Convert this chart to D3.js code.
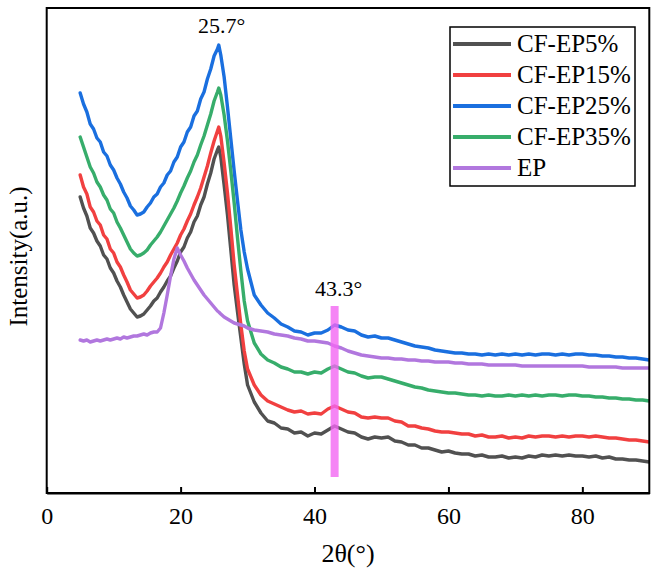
<!DOCTYPE html>
<html><head><meta charset="utf-8">
<script src="https://cdn.jsdelivr.net/npm/d3@7/dist/d3.min.js"></script>
<style>html,body{margin:0;padding:0;background:#fff;} svg{display:block;}</style>
</head><body>
<svg id="chart" width="656" height="578"></svg>
<script>
// 2θ (degrees)
const twoTheta = [
  5,5.5,6,6.5,7,7.5,8,8.5,9,9.5,
  10,10.5,11,11.5,12,12.5,13,13.5,14,14.5,
  15,15.5,16,16.5,17,17.5,18,18.5,19,19.5,
  20,20.5,21,21.5,22,22.5,23,23.5,24,24.5,
  25,25.5,25.7,26,26.5,27,27.5,28,28.5,29,
  29.5,30,31,32,33,34,35,36,37,38,
  39,40,41,42,43,44,45,46,47,48,
  49,50,51,52,53,54,55,56,57,58,
  59,60,61,62,63,64,65,66,67,68,
  69,70,71,72,73,74,75,76,77,78,
  79,80,81,82,83,84,85,86,87,88,
  89,90];
// Intensity (a.u.)
const cfEp5 = [
  296,285,277,265,260,252,247,238,234,225,
  220,212,206,198,191,184,180,176,177,179,
  183,187,192,195,201,206,212,217,225,232,
  241,246,255,261,271,277,288,296,309,320,
  334,343,346,336,308,278,243,208,181,155,
  129,108,91,80,72,70,65,64,60,61,
  57,60,59,63,67,64,61,60,56,54,
  56,55,56,52,51,48,48,45,45,43,
  41,42,40,39,39,37,38,36,36,37,
  35,36,35,37,36,38,37,38,37,38,
  37,37,36,37,35,36,34,34,33,33,
  32,31];
const cfEp15 = [
  318,306,299,286,281,272,268,258,254,244,
  240,231,226,218,211,203,199,195,196,198,
  202,207,211,215,220,226,231,238,244,250,
  258,264,272,279,288,296,305,316,327,340,
  352,362,366,357,330,300,265,228,198,168,
  142,124,108,98,92,89,86,83,81,82,
  79,80,79,84,87,84,81,80,76,75,
  76,75,75,72,71,67,67,65,64,62,
  61,61,60,59,59,57,58,56,56,57,
  55,56,55,57,56,57,57,56,57,56,
  57,57,56,57,56,55,55,54,53,53,
  52,51];
const cfEp25 = [
  400,389,381,369,364,355,351,341,337,328,
  323,315,309,301,295,287,283,278,279,281,
  286,290,296,299,306,310,318,322,331,336,
  346,351,361,366,377,382,394,401,414,424,
  437,444,448,438,416,386,354,322,292,263,
  241,224,198,188,180,175,169,166,162,161,
  158,160,160,163,168,166,163,162,158,156,
  157,155,155,153,151,149,147,146,145,143,
  142,141,140,140,139,139,138,139,138,139,
  138,139,138,139,138,139,139,138,139,138,
  139,139,138,138,137,137,136,136,135,135,
  134,133];
const cfEp35 = [
  356,346,336,326,320,311,306,298,293,284,
  280,271,265,258,251,244,240,237,238,240,
  243,248,252,256,261,267,273,279,285,292,
  300,307,315,322,331,338,348,357,368,379,
  392,401,405,398,378,352,322,290,255,222,
  192,172,150,139,133,130,126,124,121,121,
  119,121,120,124,127,124,121,120,117,115,
  116,116,114,112,110,108,106,105,103,102,
  101,100,100,99,98,98,97,98,97,97,
  98,97,98,97,98,97,98,98,97,98,
  98,97,97,96,96,95,95,94,94,93,
  93,92];
const ep = [
  153,152,153,151,152,153,152,153,154,153,
  154,155,154,156,155,156,157,157,158,159,
  158,160,161,161,165,180,198,217,234,245,
  238,232,225,219,213,208,203,198,194,190,
  186,182,181,179,176,174,172,170,169,168,
  167,165,163,162,161,159,158,157,155,154,
  152,152,151,150,147,145,142,140,138,137,
  136,135,135,134,134,133,133,132,132,131,
  131,131,130,130,129,129,129,128,128,128,
  128,128,127,127,127,127,127,127,127,127,
  127,127,126,126,126,126,126,125,125,125,
  125,125];

const seriesNames  = ["CF-EP5%","CF-EP15%","CF-EP25%","CF-EP35%","EP"];
const seriesValues = [cfEp5, cfEp15, cfEp25, cfEp35, ep];
const seriesColors = ["#515151","#F14040","#1A6FDF","#37AD6B","#B177DE"];
const xTicks = [0,20,40,60,80];
const xDomain = [0,90];
const yDomain = [0,485];
const peakMain = {x:25.7, label:"25.7°", y:448};
const peakMarker = {x:43.0, label:"43.3°", y0:16, y1:187};

const svg = d3.select("#chart");
const W = 656, H = 578;
const m = {l:46.7, r:656-649.3, t:8, b:578-493};
const x = d3.scaleLinear().domain(xDomain).range([m.l, W-m.r]);
const y = d3.scaleLinear().domain(yDomain).range([H-m.b, m.t]);
const FONT = "Liberation Serif, Times New Roman, serif";

svg.append("defs").append("clipPath").attr("id","clip")
  .append("rect").attr("x",m.l).attr("y",m.t).attr("width",W-m.l-m.r).attr("height",H-m.t-m.b);

const line = d3.line().x((d,i)=>x(twoTheta[i])).y(d=>y(d)).curve(d3.curveLinear);
const g = svg.append("g").attr("clip-path","url(#clip)");
seriesValues.forEach((vals,k)=>{
  g.append("path").datum(vals).attr("d",line)
    .attr("fill","none").attr("stroke",seriesColors[k])
    .attr("stroke-width",3.4).attr("stroke-linejoin","round").attr("stroke-linecap","round");
});

// marker bar at 43.3°
svg.append("rect")
  .attr("x", x(peakMarker.x)-4).attr("width",8)
  .attr("y", y(peakMarker.y1)).attr("height", y(peakMarker.y0)-y(peakMarker.y1))
  .attr("fill","#f266f2").attr("opacity",0.8);
svg.append("text").attr("x", x(peakMarker.x)+4).attr("y", y(peakMarker.y1)-10)
  .attr("text-anchor","middle").attr("font-family",FONT).attr("font-size",22)
  .text(peakMarker.label);
svg.append("text").attr("x", x(peakMain.x)+3).attr("y", y(peakMain.y)-12)
  .attr("text-anchor","middle").attr("font-family",FONT).attr("font-size",22)
  .text(peakMain.label);

// frame
svg.append("rect").attr("x",m.l).attr("y",m.t).attr("width",W-m.l-m.r).attr("height",H-m.t-m.b)
  .attr("fill","none").attr("stroke","#000").attr("stroke-width",2);

// x axis
const xAxis = d3.axisBottom(x).tickValues(xTicks).tickSizeInner(-6).tickSizeOuter(0).tickPadding(14);
const ax = svg.append("g").attr("transform",`translate(0,${H-m.b})`).call(xAxis);
ax.select(".domain").attr("stroke","#000").attr("stroke-width",2);
ax.selectAll(".tick line").attr("stroke","#000").attr("stroke-width",2);
ax.selectAll(".tick text").attr("font-family",FONT).attr("font-size",24).attr("fill","#000");

// axis titles
svg.append("text").attr("x",(m.l+W-m.r)/2).attr("y",562).attr("text-anchor","middle")
  .attr("font-family",FONT).attr("font-size",26).text("2θ(°)");
svg.append("text").attr("transform",`translate(27,${(m.t+H-m.b)/2+6}) rotate(-90)`)
  .attr("text-anchor","middle").attr("font-family",FONT).attr("font-size",25).text("Intensity(a.u.)");

// legend
const lg = svg.append("g");
lg.append("rect").attr("x",450).attr("y",27).attr("width",185).attr("height",159)
  .attr("fill","#fff").attr("stroke","#000").attr("stroke-width",1.5);
seriesNames.forEach((n,k)=>{
  const cy = 44 + k*31;
  lg.append("line").attr("x1",453).attr("x2",511).attr("y1",cy).attr("y2",cy)
    .attr("stroke",seriesColors[k]).attr("stroke-width",4);
  lg.append("text").attr("x",517).attr("y",cy+8).attr("font-family",FONT).attr("font-size",25).text(n);
});
</script>
</body></html>
